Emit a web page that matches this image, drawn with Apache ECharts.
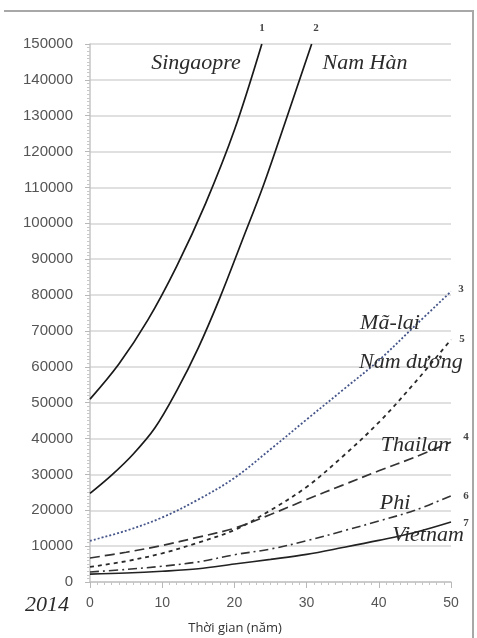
<!DOCTYPE html>
<html><head><meta charset="utf-8">
<script src="https://cdn.jsdelivr.net/npm/echarts@6/dist/echarts.min.js"></script>
<style>html,body{margin:0;padding:0;background:#fff}#c{width:477px;height:638px}</style>
</head><body><div id="c"></div>
<script>
// Singapore and South Korea leave the chart at the top, so they have their own years
const sgYears = [0, 4, 8, 12, 16, 20, 23.8];
const sgValues = [51000, 60800, 73000, 88000, 105500, 126000, 150000];
const krYears = [0, 3, 6, 9, 12, 15, 18, 21, 24, 27, 30.7];
const krValues = [24700, 29800, 35700, 43000, 53300, 65300, 79300, 94800, 110500, 128000, 150000];
// remaining countries, every 5 years
const years = [0, 5, 10, 15, 20, 25, 30, 35, 40, 45, 50];
const myValues = [11500, 14300, 18000, 23000, 29000, 37000, 45300, 53500, 61800, 71400, 81000];
const idValues = [4200, 5800, 8000, 11000, 14500, 20000, 26500, 35000, 44500, 55600, 67600];
const thValues = [6700, 8300, 10200, 12500, 15000, 18800, 23000, 27000, 31000, 34800, 39000];
const phValues = [2800, 3500, 4400, 5600, 7600, 9200, 11500, 14200, 17000, 20000, 24000];
const vnValues = [2200, 2500, 3000, 3700, 5000, 6300, 7700, 9600, 11600, 13800, 16700];
// axes
const xMin = 0, xMax = 50, xStep = 10;
const yMin = 0, yMax = 150000, yStep = 10000;

function pairs(xs, ys) { return xs.map((x, i) => [x, ys[i]]); }

const chart = echarts.init(document.getElementById('c'));
const serifIt = { fontFamily: 'Liberation Serif', fontStyle: 'italic', fontSize: 22, fill: '#2b2b2b' };
const numSt = { fontFamily: 'Liberation Serif', fontWeight: 'bold', fontSize: 11, fill: '#444' };
function txt(x, y, s, st, align) {
  return { type: 'text', x: x, y: y, style: Object.assign({ text: s, align: align || 'center', verticalAlign: 'middle' }, st), z: 10 };
}
function line(name, data, color, type, width) {
  return {
    name: name, type: 'line', data: data, smooth: 0.35,
    symbol: 'none', clip: true,
    lineStyle: { color: color, width: width || 1.6, type: type }
  };
}
chart.setOption({
  animation: false,
  backgroundColor: '#fff',
  grid: { left: 90, right: 26, top: 44, bottom: 56 },
  xAxis: {
    type: 'value', min: xMin, max: xMax, interval: xStep,
    axisLine: { show: true, lineStyle: { color: '#c4c4c4', width: 1.5 } },
    axisTick: { show: true, length: 6, lineStyle: { color: '#b8b8b8' } },
    minorTick: { show: true, splitNumber: 10, length: 3, lineStyle: { color: '#c4c4c4' } },
    axisLabel: { color: '#555', fontSize: 14, fontFamily: 'Liberation Sans', margin: 14 },
    splitLine: { show: false }
  },
  yAxis: {
    type: 'value', min: yMin, max: yMax, interval: yStep,
    axisLine: { show: true, lineStyle: { color: '#c4c4c4', width: 1.5 } },
    axisTick: { show: true, length: 5, lineStyle: { color: '#b8b8b8' } },
    minorTick: { show: true, splitNumber: 10, length: 3, lineStyle: { color: '#c8c8c8' } },
    axisLabel: { color: '#555', fontSize: 15, fontFamily: 'Liberation Sans', margin: 17, formatter: v => String(v) },
    splitLine: { show: true, lineStyle: { color: '#d6d6d6', width: 1.5 } }
  },
  series: [
    line('Singaopre', pairs(sgYears, sgValues), '#1a1a1a', 'solid', 1.7),
    line('Nam Hàn', pairs(krYears, krValues), '#1a1a1a', 'solid', 1.7),
    line('Mã-lai', pairs(years, myValues), '#45558a', [2, 2], 1.8),
    line('Nam dương', pairs(years, idValues), '#2a2a2a', [4, 4], 1.8),
    line('Thailan', pairs(years, thValues), '#333', [10, 5], 1.7),
    line('Phi', pairs(years, phValues), '#333', [9, 4, 2, 4], 1.6),
    line('Vietnam', pairs(years, vnValues), '#222', 'solid', 1.6)
  ],
  graphic: [
    { type: 'polyline', shape: { points: [[4, 11], [473, 11], [473, 640]] }, style: { stroke: '#a8a8a8', lineWidth: 2, fill: null } },
    txt(196, 63, 'Singaopre', serifIt),
    txt(365, 63, 'Nam Hàn', serifIt),
    txt(390, 323, 'Mã-lai', serifIt),
    txt(359, 362, 'Nam dương', serifIt, 'left'),
    txt(415, 445, 'Thailan', serifIt),
    txt(395, 503, 'Phi', serifIt),
    txt(428, 535, 'Vietnam', serifIt),
    txt(262, 28, '1', numSt),
    txt(316, 28, '2', numSt),
    txt(461, 289, '3', numSt),
    txt(462, 339, '5', numSt),
    txt(466, 437, '4', numSt),
    txt(466, 496, '6', numSt),
    txt(466, 523, '7', numSt),
    txt(47, 605, '2014', { fontFamily: 'Liberation Serif', fontStyle: 'italic', fontSize: 22, fill: '#2b2b2b' }),
    txt(235, 628, 'Thời gian (năm)', { fontFamily: 'Open Sans', fontSize: 13, fill: '#333' })
  ]
});
</script>
</body></html>
